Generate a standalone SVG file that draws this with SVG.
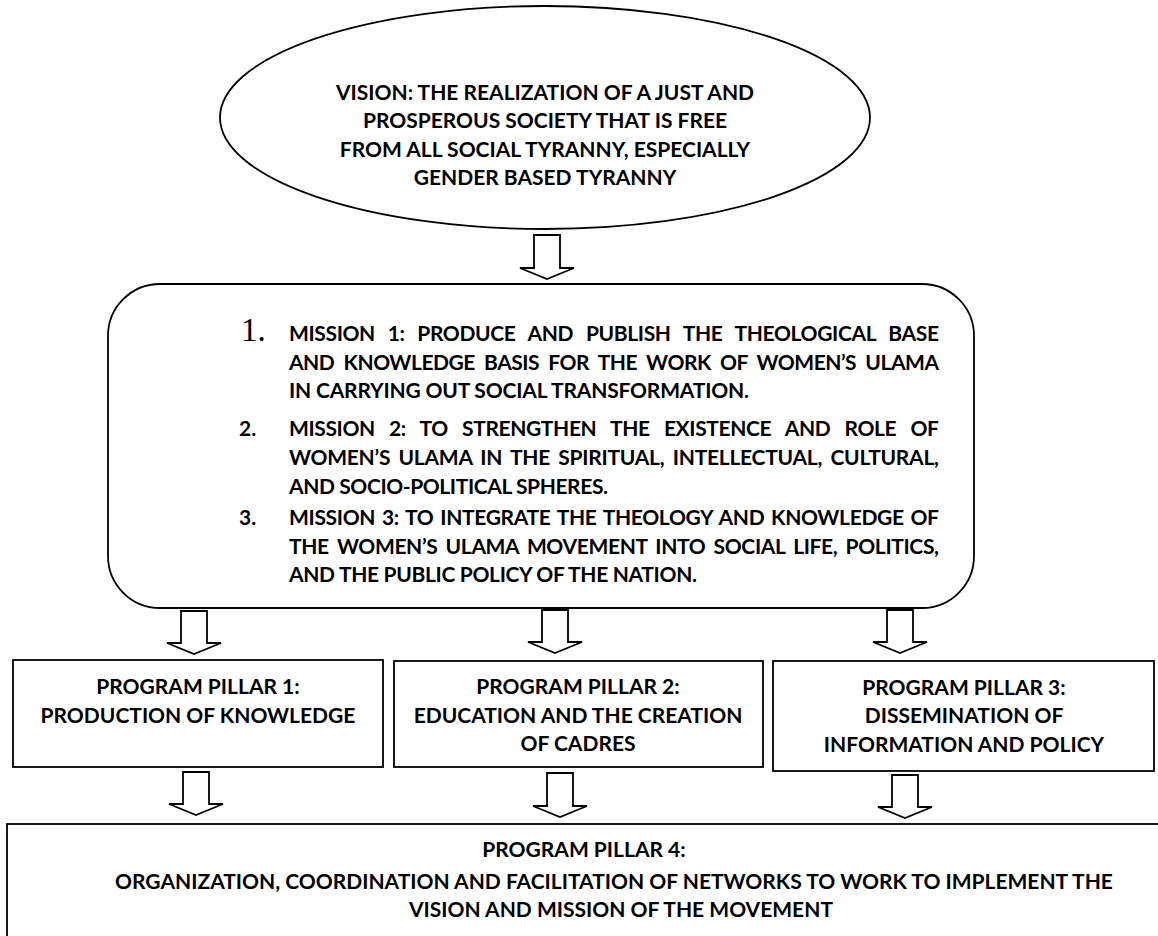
<svg xmlns="http://www.w3.org/2000/svg" width="1158" height="936" viewBox="0 0 1158 936">
<style>
.shape{fill:#fff;stroke:#000;stroke-width:1.8}
.arr{fill:#fff;stroke:#000;stroke-width:1.8;stroke-linejoin:miter}
.t{font-family:Lato,"Open Sans","Liberation Sans",sans-serif;font-weight:bold;font-size:21px;fill:#000}
.c{text-anchor:middle}
.num{font-family:"Liberation Serif","DejaVu Serif",serif;font-size:33px;fill:#000}
</style>
<rect width="1158" height="936" fill="#fff"/>
<g id="vision">
<ellipse class="shape" cx="545" cy="117.5" rx="325" ry="111.5"/>
<text class="t c" x="545" y="100">VISION: THE REALIZATION OF A JUST AND</text>
<text class="t c" x="545" y="128">PROSPEROUS SOCIETY THAT IS FREE</text>
<text class="t c" x="545" y="157">FROM ALL SOCIAL TYRANNY, ESPECIALLY</text>
<text class="t c" x="545" y="185">GENDER BASED TYRANNY</text>
</g>
<g id="mission">
<rect class="shape" x="108" y="284" width="866" height="324" rx="52" ry="52"/>
<text class="num" x="241" y="341">1.</text>
<text class="t" x="289" y="341" word-spacing="8" textLength="650" lengthAdjust="spacing">MISSION 1: PRODUCE AND PUBLISH THE THEOLOGICAL BASE</text>
<text class="t" x="289" y="370" word-spacing="4.5" textLength="650" lengthAdjust="spacing">AND KNOWLEDGE BASIS FOR THE WORK OF WOMEN’S ULAMA</text>
<text class="t" x="289" y="398" textLength="460" lengthAdjust="spacing">IN CARRYING OUT SOCIAL TRANSFORMATION.</text>
<text class="t" x="239" y="436">2.</text>
<text class="t" x="289" y="436" word-spacing="9.5" textLength="650" lengthAdjust="spacing">MISSION 2: TO STRENGTHEN THE EXISTENCE AND ROLE OF</text>
<text class="t" x="289" y="465" word-spacing="3.5" textLength="650" lengthAdjust="spacing">WOMEN’S ULAMA IN THE SPIRITUAL, INTELLECTUAL, CULTURAL,</text>
<text class="t" x="289" y="494" textLength="319" lengthAdjust="spacing">AND SOCIO-POLITICAL SPHERES.</text>
<text class="t" x="239" y="525">3.</text>
<text class="t" x="289" y="525" word-spacing="2" textLength="650" lengthAdjust="spacing">MISSION 3: TO INTEGRATE THE THEOLOGY AND KNOWLEDGE OF</text>
<text class="t" x="289" y="554" word-spacing="3.5" textLength="650" lengthAdjust="spacing">THE WOMEN’S ULAMA MOVEMENT INTO SOCIAL LIFE, POLITICS,</text>
<text class="t" x="289" y="582" textLength="408" lengthAdjust="spacing">AND THE PUBLIC POLICY OF THE NATION.</text>
</g>
<g id="pillar1">
<rect class="shape" x="13" y="660" width="370" height="107"/>
<text class="t c" x="198" y="694">PROGRAM PILLAR 1:</text>
<text class="t c" x="198" y="723">PRODUCTION OF KNOWLEDGE</text>
</g>
<g id="pillar2">
<rect class="shape" x="394" y="661" width="369" height="106"/>
<text class="t c" x="578" y="694">PROGRAM PILLAR 2:</text>
<text class="t c" x="578" y="723">EDUCATION AND THE CREATION</text>
<text class="t c" x="578" y="751">OF CADRES</text>
</g>
<g id="pillar3">
<rect class="shape" x="773" y="661" width="381" height="110"/>
<text class="t c" x="964" y="695">PROGRAM PILLAR 3:</text>
<text class="t c" x="964" y="723">DISSEMINATION OF</text>
<text class="t c" x="964" y="752">INFORMATION AND POLICY</text>
</g>
<g id="pillar4">
<rect class="shape" x="7" y="824" width="1220" height="200"/>
<text class="t c" x="584" y="857">PROGRAM PILLAR 4:</text>
<text class="t c" x="614" y="889">ORGANIZATION, COORDINATION AND FACILITATION OF NETWORKS TO WORK TO IMPLEMENT THE</text>
<text class="t c" x="621" y="917">VISION AND MISSION OF THE MOVEMENT</text>
</g>
<g id="connectors">
<path class="arr" d="M534,235 L560,235 L560,268 L574,268 L547,279 L520,268 L534,268 Z"/>
<path class="arr" d="M181,611 L207,611 L207,643 L221,643 L194,654 L167,643 L181,643 Z"/>
<path class="arr" d="M542,610 L568,610 L568,642 L582,642 L555,653 L528,642 L542,642 Z"/>
<path class="arr" d="M887,610 L913,610 L913,642 L927,642 L900,653 L873,642 L887,642 Z"/>
<path class="arr" d="M183,772 L209,772 L209,804 L223,804 L196,815 L169,804 L183,804 Z"/>
<path class="arr" d="M547,773 L573,773 L573,806 L587,806 L560,817 L533,806 L547,806 Z"/>
<path class="arr" d="M892,775 L918,775 L918,807 L932,807 L905,818 L878,807 L892,807 Z"/>
</g>
</svg>
